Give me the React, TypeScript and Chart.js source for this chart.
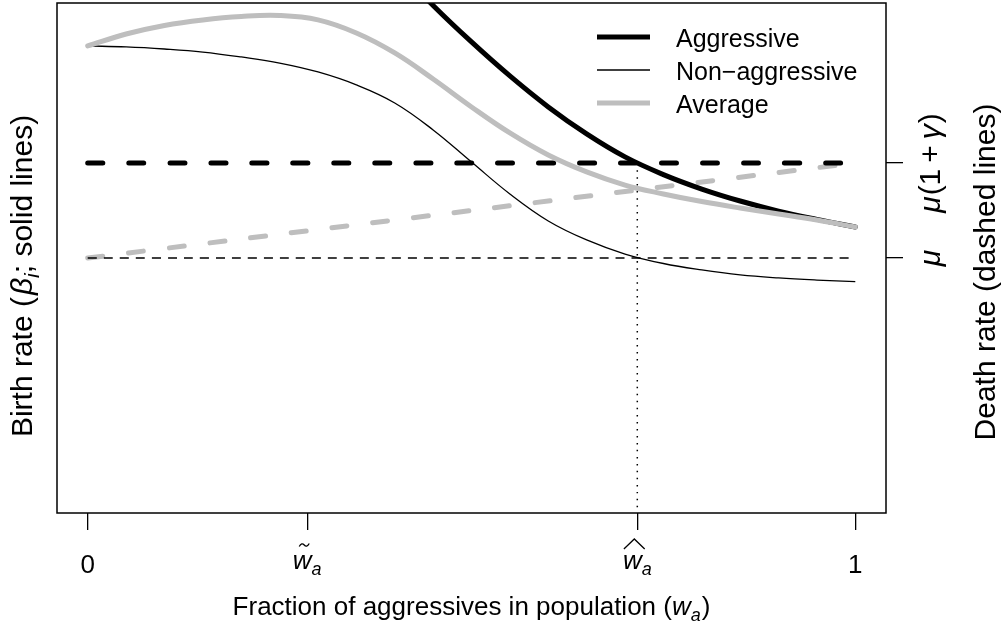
import React, { useEffect, useRef } from "react";
import { Chart, registerables } from "chart.js";

Chart.register(...registerables);

// ---------------- data ----------------
const wa = [0, 0.05, 0.1, 0.15, 0.2, 0.25, 0.3, 0.35, 0.4, 0.45, 0.5, 0.55, 0.6, 0.65, 0.7, 0.75, 0.8, 0.85, 0.9, 0.95, 1];
const birthNonAggressive = [2.116, 2.111, 2.1, 2.084, 2.058, 2.026, 1.979, 1.911, 1.816, 1.674, 1.505, 1.337, 1.195, 1.095, 1.021, 0.971, 0.937, 0.911, 0.895, 0.884, 0.876];
const birthAverage = [2.116, 2.179, 2.224, 2.253, 2.271, 2.276, 2.253, 2.184, 2.079, 1.942, 1.795, 1.658, 1.542, 1.453, 1.384, 1.337, 1.297, 1.263, 1.232, 1.2, 1.163];
const waAggressive = [0.4, 0.45, 0.5, 0.55, 0.6, 0.65, 0.7, 0.75, 0.8, 0.85, 0.9, 0.95, 1];
const birthAggressive = [2.539, 2.329, 2.137, 1.958, 1.795, 1.653, 1.532, 1.439, 1.363, 1.3, 1.247, 1.203, 1.163];

const mu = 1;
const gamma = 0.5;
const deathX = [0, 1];
const deathAggressive = [mu * (1 + gamma), mu * (1 + gamma)];
const deathNonAggressive = [mu, mu];
const deathAverage = [mu, mu * (1 + gamma)];

const waTilde = 0.286;
const waHat = 0.716;
const xTickValues = [0, waTilde, waHat, 1];
const xTickLabels = ["0", "w~a", "w^a", "1"];
const rightTickValues = [mu, mu * (1 + gamma)];

const xMin = -0.04;
const xMax = 1.04;
const yMin = -0.342;
const yMax = 2.342;

const seriesLabels = ["Aggressive", "Non\u2212aggressive", "Average"];

// ---------------- styling helpers ----------------
const FONT = '"Liberation Sans", Arial, Helvetica, sans-serif';
const GRAY = "#BEBEBE";
const fnt = (size: number, italic = false) => `${italic ? "italic " : ""}${size}px ${FONT}`;

type Seg = { t: string; size: number; italic?: boolean; dy?: number; gap?: number };

function rowWidth(ctx: CanvasRenderingContext2D, segs: Seg[]) {
  let w = 0;
  for (const s of segs) {
    ctx.font = fnt(s.size, s.italic);
    w += ctx.measureText(s.t).width + (s.gap || 0);
  }
  return w;
}

function drawRow(ctx: CanvasRenderingContext2D, segs: Seg[], x: number, y: number) {
  let cx = x;
  const pos: { x: number; w: number }[] = [];
  for (const s of segs) {
    ctx.font = fnt(s.size, s.italic);
    const w = ctx.measureText(s.t).width;
    ctx.fillText(s.t, cx, y + (s.dy || 0));
    pos.push({ x: cx, w });
    cx += w + (s.gap || 0);
  }
  return pos;
}

function drawRowCentered(ctx: CanvasRenderingContext2D, segs: Seg[], cx: number, y: number) {
  const w = rowWidth(ctx, segs);
  return drawRow(ctx, segs, cx - w / 2, y);
}

function drawRotated(ctx: CanvasRenderingContext2D, segs: Seg[], bx: number, cy: number) {
  ctx.save();
  ctx.translate(bx, cy);
  ctx.rotate(-Math.PI / 2);
  drawRowCentered(ctx, segs, 0, 0);
  ctx.restore();
}

const S = 25;
const TICK = 26;
const YT = 30;

const annotations = {
  id: "annotations",
  afterDraw(chart: any) {
    const ctx: CanvasRenderingContext2D = chart.ctx;
    const a = chart.chartArea;
    const xs = chart.scales.x;
    const yr = chart.scales.y2;
    ctx.save();
    ctx.fillStyle = "#000";
    ctx.strokeStyle = "#000";
    ctx.textAlign = "left";
    ctx.textBaseline = "alphabetic";

    // plot box
    ctx.lineWidth = 1.5;
    ctx.strokeRect(a.left, a.top, a.right - a.left, a.bottom - a.top);

    // x tick labels
    xTickValues.forEach((v, i) => {
      const px = xs.getPixelForValue(v);
      const lab = xTickLabels[i];
      if (lab === "w~a" || lab === "w^a") {
        const segs: Seg[] = [
          { t: "w", size: TICK, italic: true },
          { t: "a", size: 18, italic: true, dy: 6 },
        ];
        const pos = drawRowCentered(ctx, segs, px, 569);
        const wl = pos[0].x;
        const ww = pos[0].w;
        ctx.lineWidth = 1.3;
        ctx.beginPath();
        if (lab === "w~a") {
          const cx = wl + ww / 2 + 2;
          const y0 = 545;
          ctx.moveTo(cx - 5, y0 + 1.5);
          ctx.quadraticCurveTo(cx - 2.5, y0 - 3, cx, y0);
          ctx.quadraticCurveTo(cx + 2.5, y0 + 3, cx + 5, y0 - 1.5);
        } else {
          ctx.moveTo(wl + 1, 549);
          ctx.lineTo(wl + ww / 2 + 2, 539);
          ctx.lineTo(wl + ww + 3, 549);
        }
        ctx.stroke();
      } else {
        drawRowCentered(ctx, [{ t: lab, size: TICK }], px, 573);
      }
    });

    // x title
    drawRowCentered(
      ctx,
      [
        { t: "Fraction of aggressives in population (", size: 26 },
        { t: "w", size: 26, italic: true },
        { t: "a", size: 18, italic: true, dy: 6, gap: 1 },
        { t: ")", size: 26 },
      ],
      (a.left + a.right) / 2,
      615
    );

    // left title
    drawRotated(
      ctx,
      [
        { t: "Birth rate (", size: YT, gap: 2 },
        { t: "\u03B2", size: YT, italic: true },
        { t: "i", size: 21, italic: true, dy: 7 },
        { t: "; solid lines)", size: YT },
      ],
      32,
      276
    );

    // right title
    drawRotated(ctx, [{ t: "Death rate (dashed lines)", size: YT }], 995, 272);

    // right tick labels
    drawRotated(
      ctx,
      [
        { t: "\u03BC", size: YT, italic: true, gap: 1 },
        { t: "(1\u2009+\u2009", size: YT },
        { t: "\u03B3", size: YT, italic: true, gap: 1 },
        { t: ")", size: YT },
      ],
      940,
      yr.getPixelForValue(rightTickValues[1])
    );
    drawRotated(ctx, [{ t: "\u03BC", size: YT, italic: true }], 940, yr.getPixelForValue(rightTickValues[0]));

    // legend
    const ds = chart.data.datasets;
    const legendY = [37, 70, 103];
    seriesLabels.forEach((lab, i) => {
      const d = ds.find((q: any) => q.label === lab);
      ctx.strokeStyle = d.borderColor;
      ctx.lineWidth = d.borderWidth;
      ctx.lineCap = "butt";
      ctx.beginPath();
      ctx.moveTo(597, legendY[i]);
      ctx.lineTo(650, legendY[i]);
      ctx.stroke();
      ctx.fillStyle = "#000";
      ctx.font = fnt(S);
      ctx.fillText(lab, 676, legendY[i] + 9.5);
    });

    ctx.restore();
  },
};

export default function App() {
  const ref = useRef<HTMLCanvasElement | null>(null);
  useEffect(() => {
    if (!ref.current) return;
    const pts = (xs: number[], ys: number[]) => xs.map((x, i) => ({ x, y: ys[i] }));
    const base = { pointRadius: 0, pointHoverRadius: 0, fill: false, yAxisID: "y", xAxisID: "x", tension: 0.4 };
    const chart = new Chart(ref.current, {
      type: "line",
      data: {
        datasets: [
          { ...base, label: seriesLabels[2], data: pts(wa, birthAverage), borderColor: GRAY, borderWidth: 5, borderCapStyle: "round", borderJoinStyle: "round" },
          { ...base, label: seriesLabels[1], data: pts(wa, birthNonAggressive), borderColor: "#000", borderWidth: 1.3 },
          { ...base, label: seriesLabels[0], data: pts(waAggressive, birthAggressive), borderColor: "#000", borderWidth: 5, borderCapStyle: "round", borderJoinStyle: "round" },
          { ...base, label: "death aggressive", data: pts(deathX, deathAggressive), borderColor: "#000", borderWidth: 5, borderDash: [15, 26], borderCapStyle: "round" },
          { ...base, label: "death non-aggressive", data: pts(deathX, deathNonAggressive), borderColor: "#000", borderWidth: 1.3, borderDash: [9, 7] },
          { ...base, label: "death average", data: pts(deathX, deathAverage), borderColor: GRAY, borderWidth: 5, borderDash: [15, 26], borderCapStyle: "round" },
          { ...base, label: "hat wa", data: pts([waHat, waHat], [mu * (1 + gamma), yMin]), borderColor: "#000", borderWidth: 1.5, borderDash: [1.5, 5.5] },
        ],
      } as any,
      options: {
        animation: false,
        responsive: false,
        maintainAspectRatio: false,
        devicePixelRatio: 1,
        layout: { padding: { left: 57, top: 3, right: 0, bottom: 0 } },
        plugins: { legend: { display: false }, tooltip: { enabled: false } },
        events: [],
        scales: {
          x: {
            type: "linear",
            min: xMin,
            max: xMax,
            position: "bottom",
            afterBuildTicks: (s: any) => {
              s.ticks = xTickValues.map((v) => ({ value: v }));
            },
            afterFit: (s: any) => {
              s.height = 113;
            },
            ticks: { display: false },
            grid: { drawOnChartArea: false, drawTicks: true, tickLength: 17, color: "#000", lineWidth: 1.3 },
            border: { display: false },
          },
          y: {
            type: "linear",
            min: yMin,
            max: yMax,
            display: false,
          },
          y2: {
            type: "linear",
            min: yMin,
            max: yMax,
            position: "right",
            afterBuildTicks: (s: any) => {
              s.ticks = rightTickValues.map((v) => ({ value: v }));
            },
            afterFit: (s: any) => {
              s.width = 118;
            },
            ticks: { display: false },
            grid: { drawOnChartArea: false, drawTicks: true, tickLength: 17, color: "#000", lineWidth: 1.3 },
            border: { display: false },
          },
        },
      } as any,
      plugins: [annotations],
    });
    return () => chart.destroy();
  }, []);
  return (
    <div style={{ position: "absolute", left: 0, top: 0, width: 1004, height: 626, background: "#fff" }}>
      <canvas ref={ref} width={1004} height={626} style={{ width: 1004, height: 626, display: "block" }} />
    </div>
  );
}
